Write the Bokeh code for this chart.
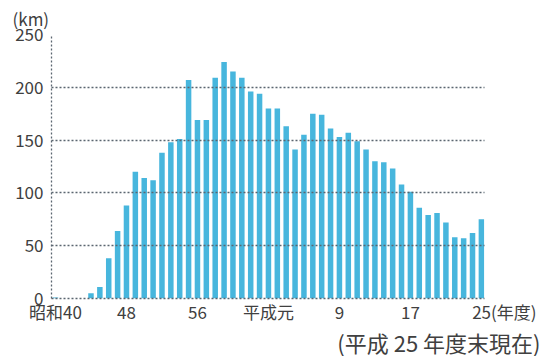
from bokeh.plotting import figure
from bokeh.models import FixedTicker, Range1d, Title
from bokeh.embed import file_html
from bokeh.resources import INLINE

# Fiscal years 昭和40 (1965) through 平成25 (2013)
years = list(range(1965, 2014))
# Length opened per fiscal year (km)
lengths = [1, 0, 0, 0, 5, 11, 38, 64, 88, 120,
           114, 112, 138, 148, 151, 207, 169, 169, 209, 224,
           215, 209, 196, 194, 180, 180, 163, 141, 155, 175,
           174, 161, 153, 157, 149, 141, 130, 129, 123, 108,
           101, 86, 79, 81, 72, 58, 57, 62, 75]

tick_years = [1965, 1973, 1981, 1989, 1997, 2005, 2013]
# the last label carries the "(年度)" unit; the leading blanks keep "25" centred on its bar
tick_labels = ["昭和40", "48", "56", "平成元", "9", "17",
               "\u3000\u3000\u2002\u200925(年度)"]
y_ticks = [0, 50, 100, 150, 200, 250]

FONT = "Noto Sans CJK JP"
TEXT = "#404040"
GRID = "#5b6670"

p = figure(width=540, height=356, output_backend="svg", toolbar_location=None,
           x_range=Range1d(1964.55, 2013.35), y_range=Range1d(0, 250),
           min_border_left=51, min_border_right=56, min_border_top=33,
           min_border_bottom=58)
p.outline_line_color = None
p.background_fill_color = "white"

p.vbar(x=years, top=lengths, width=0.62, color="#47b6dd", line_color=None)

p.xgrid.visible = False
p.ygrid.ticker = FixedTicker(ticks=y_ticks)
p.ygrid.grid_line_color = GRID
p.ygrid.grid_line_dash = "2 2"
p.ygrid.grid_line_width = 1.3
p.ygrid.level = "overlay"

for ax in (p.xaxis[0], p.yaxis[0]):
    ax.axis_line_color = GRID
    ax.axis_line_dash = "2 2"
    ax.axis_line_width = 1.3
    ax.major_tick_line_color = None
    ax.minor_tick_line_color = None
    ax.major_tick_out = 0
    ax.major_tick_in = 0
    ax.minor_tick_out = 0
    ax.major_label_text_font = FONT
    ax.major_label_text_font_size = "17px"
    ax.major_label_text_color = TEXT

p.yaxis.ticker = FixedTicker(ticks=y_ticks)
p.yaxis.major_label_standoff = 8

p.xaxis.ticker = FixedTicker(ticks=tick_years)
p.xaxis.major_label_overrides = {y: t for y, t in zip(tick_years, tick_labels)}
p.xaxis.major_label_standoff = 0

# unit caption above the value axis
p.add_layout(Title(text="(km)", align="left", offset=-39, standoff=7,
                   text_font=FONT, text_font_size="17px", text_font_style="normal",
                   text_color=TEXT), "above")

# as-of note under the chart
p.add_layout(Title(text="(平成 25 年度末現在)", align="right", offset=-56, standoff=-6,
                   text_font=FONT, text_font_size="22px", text_font_style="normal",
                   text_color=TEXT), "below")

open("out.html", "w").write(file_html(p, INLINE))
